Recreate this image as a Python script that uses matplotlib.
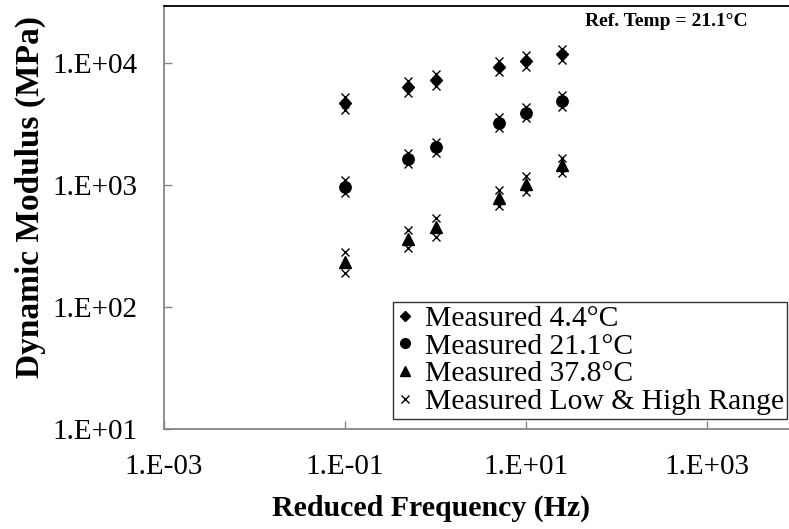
import matplotlib
matplotlib.use("Agg")
import matplotlib.pyplot as plt
from matplotlib.ticker import FixedLocator, FixedFormatter, NullLocator

plt.rcParams['font.family'] = ['Liberation Serif', 'DejaVu Serif']

# Reduced frequency (Hz)
freq = [0.1, 0.5, 1.0, 5.0, 10.0, 25.0]

# Dynamic modulus (MPa) at each test temperature
e_4_4 = [4680, 6400, 7260, 9330, 10440, 11780]
e_21_1 = [968, 1634, 2036, 3245, 3918, 4910]
e_37_8 = [235, 359, 450, 778, 1013, 1459]

# Low and high values of the measured range
low_4_4 = [4120, 5650, 6520, 8400, 9330, 10580]
high_4_4 = [5240, 7160, 8080, 10440, 11630, 13030]
low_21_1 = [865, 1478, 1820, 2920, 3525, 4385]
high_21_1 = [1100, 1840, 2265, 3630, 4385, 5470]
low_37_8 = [191, 303, 373, 673, 881, 1248]
high_37_8 = [281, 428, 533, 910, 1192, 1655]

x_ticks = [1e-3, 1e-1, 1e1, 1e3]
x_tick_labels = ["1.E-03", "1.E-01", "1.E+01", "1.E+03"]
y_ticks = [1e1, 1e2, 1e3, 1e4]
y_tick_labels = ["1.E+01", "1.E+02", "1.E+03", "1.E+04"]

W, H = 789, 529
fig = plt.figure(figsize=(W / 100, H / 100), dpi=100)
ax = fig.add_axes([164 / W, 100 / H, 633.5 / W, 423 / H])

ax.set_xscale('log')
ax.set_yscale('log')
ax.set_xlim(1e-3, 1e4)
ax.set_ylim(10, 10 ** (1 + 423 / 122))

ms = 8.2
ax.plot(freq, e_4_4, linestyle='none', marker='D', markersize=ms * 0.78,
        color='black', label='Measured 4.4°C', zorder=3)
ax.plot(freq, e_21_1, linestyle='none', marker='o', markersize=ms,
        color='black', label='Measured 21.1°C', zorder=3)
ax.plot(freq, e_37_8, linestyle='none', marker='^', markersize=ms,
        color='black', label='Measured 37.8°C', zorder=3)

range_vals = low_4_4 + high_4_4 + low_21_1 + high_21_1 + low_37_8 + high_37_8
range_freq = freq * 6
ax.plot(range_freq, range_vals, linestyle='none', marker='x', markersize=6,
        markeredgewidth=1.0, color='black',
        label='Measured Low & High Range', zorder=4)

ax.xaxis.set_major_locator(FixedLocator(x_ticks))
ax.xaxis.set_major_formatter(FixedFormatter(x_tick_labels))
ax.yaxis.set_major_locator(FixedLocator(y_ticks))
ax.yaxis.set_major_formatter(FixedFormatter(y_tick_labels))
ax.xaxis.set_minor_locator(NullLocator())
ax.yaxis.set_minor_locator(NullLocator())

ax.tick_params(axis='both', which='major', direction='in', length=6,
               width=1, color='#868686', labelsize=21)
ax.tick_params(axis='y', pad=19)
ax.tick_params(axis='x', pad=18)

for side in ('left', 'bottom'):
    ax.spines[side].set_color('#868686')
    ax.spines[side].set_linewidth(1.3)
ax.spines['top'].set_color('black')
ax.spines['top'].set_linewidth(1.3)
ax.spines['right'].set_visible(False)

leg = ax.legend(loc='upper left',
                bbox_to_anchor=(393 / W, 1 - 302 / H),
                bbox_transform=fig.transFigure,
                fontsize=21.3, frameon=True, fancybox=False,
                edgecolor='black', borderpad=0.12, labelspacing=0.03,
                handlelength=0.6, handletextpad=0.35, borderaxespad=0,
                markerscale=0.85)
leg.get_frame().set_linewidth(1.0)

fig.text(666 / W, 1 - 22 / H, 'Ref. Temp = 21.1°C', fontsize=14,
         fontweight='bold', ha='center', va='center')
fig.text(431 / W, 1 - 508 / H, 'Reduced Frequency (Hz)', fontsize=21.5,
         fontweight='bold', ha='center', va='center')
fig.text(30 / W, 1 - 197 / H, 'Dynamic Modulus (MPa)', fontsize=24,
         fontweight='bold', ha='center', va='center', rotation=90)

fig.savefig('out.png', dpi=100)
